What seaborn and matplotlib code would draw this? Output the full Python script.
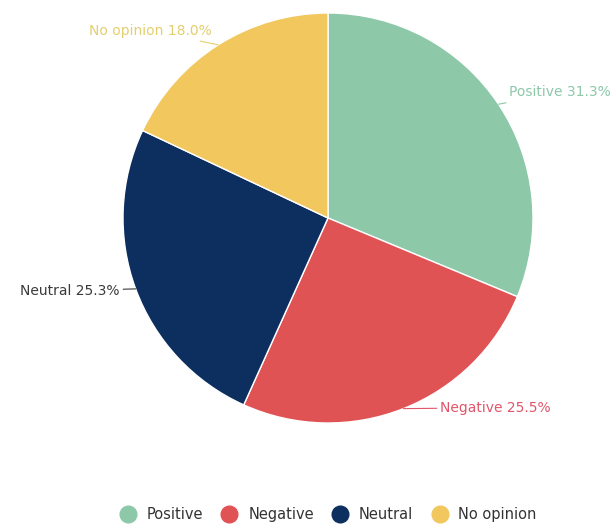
import numpy as np
import matplotlib
matplotlib.use("Agg")
import matplotlib.pyplot as plt
from matplotlib.lines import Line2D
import seaborn as sns

# Data
categories = ["Positive", "Negative", "Neutral", "No opinion"]
shares = [31.3, 25.5, 25.3, 18.0]
slice_colors = ["#8dc8a9", "#e05354", "#0d2f5f", "#f1c75e"]
label_colors = ["#8dc8a9", "#e0566a", "#3a3a3a", "#e3cf6e"]
# small angle nudges (degrees) for where each outside label sits
label_nudge = [1, 9, -1, -0.5]

sns.set_theme(style="white")
plt.rcParams["font.family"] = ["DejaVu Sans"]

fig = plt.figure(figsize=(6.13, 5.24), dpi=100)
ax = fig.add_axes([123 / 613, 101 / 524, 410 / 613, 410 / 524])

wedges, _ = ax.pie(shares, colors=slice_colors, startangle=90, counterclock=False,
                   radius=1, wedgeprops=dict(edgecolor="white", linewidth=1))
ax.set_xlim(-1, 1)
ax.set_ylim(-1, 1)
ax.set_aspect("equal")
ax.axis("off")

for w, cat, val, col, nudge in zip(wedges, categories, shares, label_colors, label_nudge):
    mid = np.deg2rad((w.theta1 + w.theta2) / 2)
    edge = (np.cos(mid), np.sin(mid))
    ang = mid + np.deg2rad(nudge)
    r = 1.075
    tx, ty = r * np.cos(ang), r * np.sin(ang)
    ha = "left" if tx > 0 else "right"
    ax.annotate(f"{cat} {val:.1f}%", xy=edge, xytext=(tx, ty), ha=ha, va="center",
                color=col, fontsize=10,
                arrowprops=dict(arrowstyle="-", color=col, lw=0.8, shrinkA=0, shrinkB=0))

handles = [Line2D([0], [0], marker="o", linestyle="", markersize=12,
                  markerfacecolor=c, markeredgecolor=c) for c in slice_colors]
fig.legend(handles, categories, loc="lower center", ncol=4, frameon=False,
           bbox_to_anchor=(0.53, -0.022), fontsize=10.5, handletextpad=0.3,
           columnspacing=0.8, labelcolor="#333333")

fig.savefig("out.png", dpi=100, facecolor="white")
